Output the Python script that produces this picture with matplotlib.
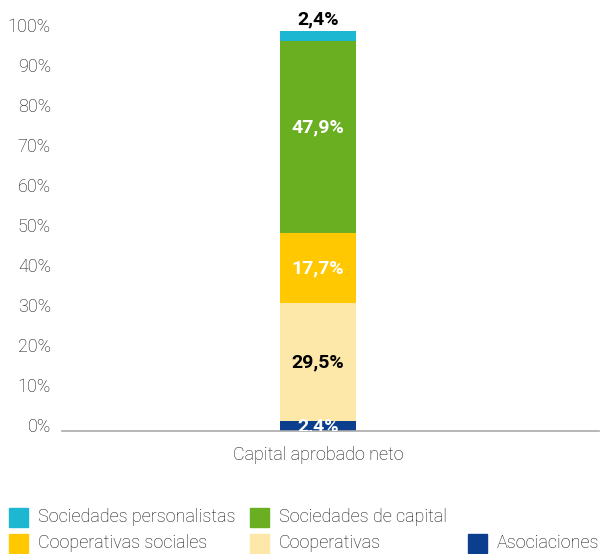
import matplotlib.pyplot as plt
from matplotlib.patches import Rectangle
from matplotlib.transforms import ScaledTranslation

plt.rcParams['font.family'] = ['Roboto', 'DejaVu Sans']
plt.rcParams['font.size'] = 13
plt.rcParams['font.weight'] = 'light'

# datos
category = 'Capital aprobado neto'
series = ['Asociaciones', 'Cooperativas', 'Cooperativas sociales',
          'Sociedades de capital', 'Sociedades personalistas']
values = [2.4, 29.5, 17.7, 47.9, 2.4]
value_labels = ['2,4%', '29,5%', '17,7%', '47,9%', '2,4%']
colors = ['#0B3F8D', '#FDE8A9', '#FFC800', '#6AAF22', '#1DB7D2']
text_colors = ['white', 'black', 'white', 'white', 'black']
yticks = list(range(0, 101, 10))
txt_clr = '#111111'

fig = plt.figure(figsize=(6, 5.54), dpi=100)
ax = fig.add_axes([62/600, 123/554, 537/600, 400/554])

bottom = 0
for i, (name, v) in enumerate(zip(series, values)):
    ax.bar(0, v, 0.5, bottom=bottom, color=colors[i], label=name)
    if i == len(values) - 1:
        # último segmento: etiqueta encima de la barra
        ax.annotate(value_labels[i], (0, bottom + v), xytext=(0, 2), textcoords='offset points',
                    ha='center', va='bottom', fontweight='bold', fontsize=14, color=text_colors[i])
    else:
        dy = 7 if i == 3 else 0
        ax.annotate(value_labels[i], (0, bottom + v / 2), xytext=(0, dy), textcoords='offset points',
                    ha='center', va='center', fontweight='bold', fontsize=14, color=text_colors[i],
                    annotation_clip=False, clip_on=True)
    bottom += v

ax.set_xlim(-1.685, 1.848)
ax.set_ylim(0, 100)
ax.set_xticks([0])
ax.set_xticklabels([category], color=txt_clr)
ax.set_yticks(yticks)
ax.set_yticklabels([f'{t}%' for t in yticks], color=txt_clr)
ax.tick_params(axis='both', length=0)
ax.tick_params(axis='y', pad=8)
ax.tick_params(axis='x', pad=11)
for lab in ax.get_yticklabels():
    lab.set_transform(lab.get_transform() + ScaledTranslation(0, 6/100, fig.dpi_scale_trans))

for s in ['top', 'right', 'left']:
    ax.spines[s].set_visible(False)
ax.spines['bottom'].set_color('#AAAAAA')
ax.spines['bottom'].set_linewidth(1.2)

# leyenda manual
legend_order = [4, 3, 2, 1, 0]
legend_pos = [(9, 517), (250, 517), (9, 543), (250, 543), (468, 543)]
for idx, (px, py) in zip(legend_order, legend_pos):
    fig.patches.append(Rectangle((px/600, (554 - py - 9.5)/554), 19/600, 19/554,
                                 transform=fig.transFigure, color=colors[idx]))
    fig.text((px + 29)/600, (554 - py)/554, series[idx], va='center', ha='left', color=txt_clr)

fig.savefig('out.png', dpi=100)
